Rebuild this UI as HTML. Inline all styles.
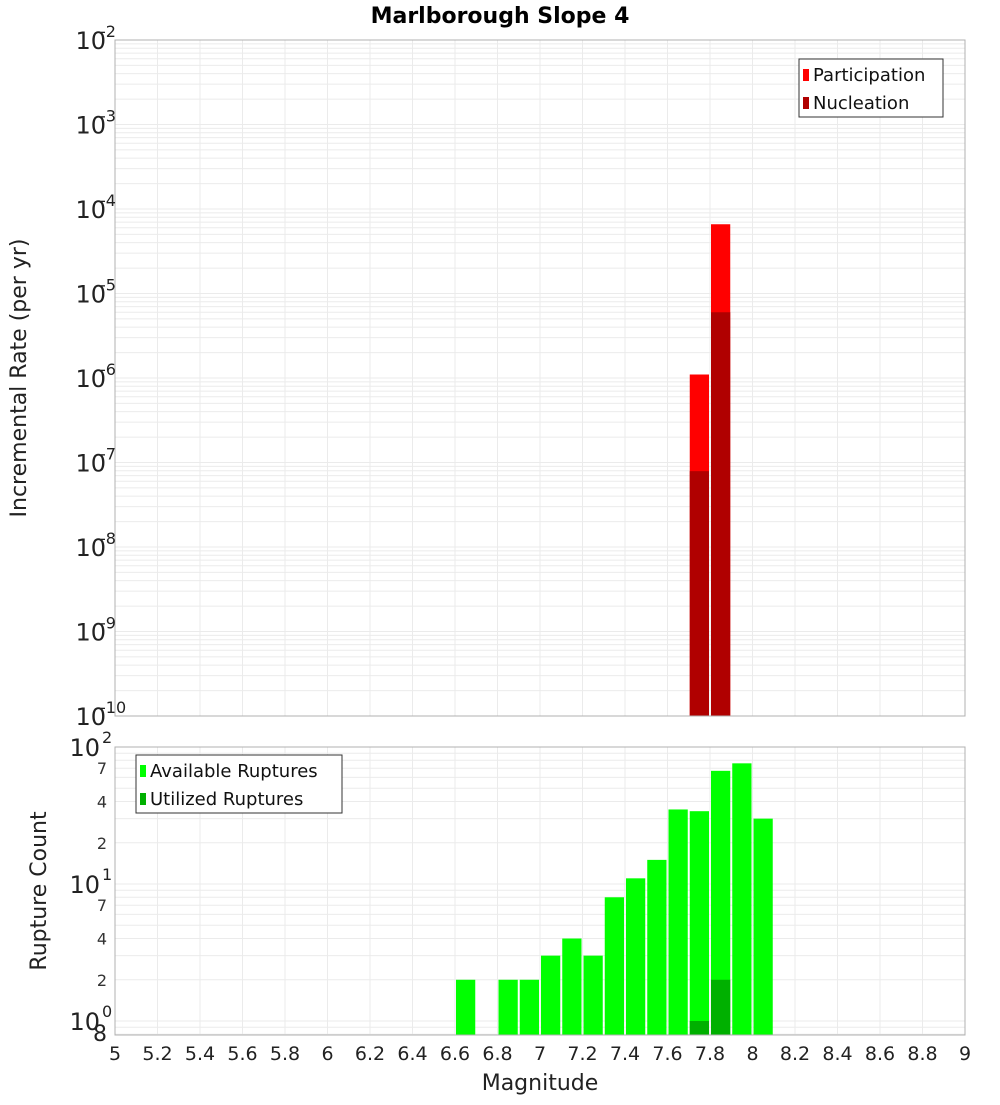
<!DOCTYPE html>
<html><head><meta charset="utf-8"><style>
body{margin:0;background:#fff;font-family:"Liberation Sans","DejaVu Sans",sans-serif}
svg text{font-family:"DejaVu Sans","Liberation Sans",sans-serif}
</style></head><body>
<svg id="chart" width="1000" height="1100" xmlns="http://www.w3.org/2000/svg">
<text x="500" y="23" text-anchor="middle" font-size="22" font-weight="bold">Marlborough Slope 4</text>
<g id="topPlot"></g><g id="botPlot"></g>
<text transform="translate(26,378) rotate(-90)" text-anchor="middle" font-size="22" fill="#222">Incremental Rate (per yr)</text>
<text transform="translate(46,891) rotate(-90)" text-anchor="middle" font-size="22" fill="#222">Rupture Count</text>
<text x="540" y="1090" text-anchor="middle" font-size="22" fill="#222">Magnitude</text>
</svg>
<script>
const mags=[6.65,6.85,6.95,7.05,7.15,7.25,7.35,7.45,7.55,7.65,7.75,7.85,7.95,8.05];
const available=[2,2,2,3,4,3,8,11,15,35,34,67,76,30];
const utilMags=[7.75,7.85];
const utilized=[1,2];
const rateMags=[7.75,7.85];
const participation=[1.1e-6,6.6e-5];
const nucleation=[7.9e-8,6.0e-6];
const xTicks=[5,5.2,5.4,5.6,5.8,6,6.2,6.4,6.6,6.8,7,7.2,7.4,7.6,7.8,8,8.2,8.4,8.6,8.8,9];
const topExps=[-2,-3,-4,-5,-6,-7,-8,-9,-10];
const botMinor=[2,4,7];

const NS="http://www.w3.org/2000/svg";
const L=115,R=965;
const X=m=>L+(m-5)*(R-L)/4;
const T0=40,T1=716,yTop=v=>T0+(-2-Math.log10(v))*(T1-T0)/8;
const B0=747,B1=1035,DEC=137,yBot=v=>B0+(2-Math.log10(v))*DEC;
function el(p,t,a){const e=document.createElementNS(NS,t);for(const k in a)e.setAttribute(k,a[k]);p.appendChild(e);return e;}
const gTop=document.getElementById('topPlot'),gBot=document.getElementById('botPlot');

function frame(g,y0,y1){
  el(g,'rect',{x:L,y:y0,width:R-L,height:y1-y0,fill:'#fff'});
  xTicks.forEach(t=>{const l=el(g,'line',{x1:X(t),x2:X(t),y1:y0,y2:y1,stroke:'#ebebeb','stroke-width':1});
  
  });
}
frame(gTop,T0,T1);
for(let e=-10;e<-2;e++)for(let k=1;k<10;k++){const y=yTop(k*Math.pow(10,e));
  const l=el(gTop,'line',{x1:L,x2:R,y1:y,y2:y,stroke:'#ebebeb','stroke-width':1});
  
  }
frame(gBot,B0,B1);
[0.8,0.9,1,2,3,4,5,6,7,8,9,10,20,30,40,50,60,70,80,90].forEach(v=>{const y=yBot(v);if(y>B1||y<B0)return;
  const l=el(gBot,'line',{x1:L,x2:R,y1:y,y2:y,stroke:'#ebebeb','stroke-width':1});
  
  });

const bw=(R-L)/40;
rateMags.forEach((m,i)=>{
  const y=yTop(participation[i]);
  const r=el(gTop,'rect',{x:X(m)-bw/2+1,y:y,width:bw-2,height:T1-y,fill:'#ff0000'});
  
  
  const y2=yTop(nucleation[i]);
  const r2=el(gTop,'rect',{x:X(m)-bw/2+1,y:y2,width:bw-2,height:T1-y2,fill:'#b00000'});
  
  
});
mags.forEach((m,i)=>{
  const y=yBot(available[i]);
  const r=el(gBot,'rect',{x:X(m)-bw/2+1,y:y,width:bw-2,height:B1-y,fill:'#00ff00'});
  
  
});
utilMags.forEach((m,i)=>{
  const y=yBot(utilized[i]);
  const r=el(gBot,'rect',{x:X(m)-bw/2+1,y:y,width:bw-2,height:B1-y,fill:'#00b000'});
  
  
});
el(gTop,'rect',{x:L,y:T0,width:R-L,height:T1-T0,fill:'none',stroke:'#b0b0b0'});
el(gBot,'rect',{x:L,y:B0,width:R-L,height:B1-B0,fill:'none',stroke:'#b0b0b0'});

topExps.forEach(e=>{const y=yTop(Math.pow(10,e));
  const t=el(gTop,'text',{x:106,y:y+9,'text-anchor':'end','font-size':24,fill:'#222'});
  
  
  t.textContent='10';
  const s=el(gTop,'text',{x:100,y:y-3,'font-size':16,fill:'#222'});
  
  
  s.textContent=String(e);
});
[2,1,0].forEach(e=>{const y=yBot(Math.pow(10,e));
  const t=el(gBot,'text',{x:100,y:y+9,'text-anchor':'end','font-size':24,fill:'#222'});
  
  
  t.textContent='10';
  const s=el(gBot,'text',{x:102,y:y-4,'font-size':16,fill:'#222'});
  
  
  s.textContent=String(e);
  if(e>0)botMinor.forEach(k=>{const yy=yBot(k*Math.pow(10,e-1));
    const m=el(gBot,'text',{x:107,y:yy+6,'text-anchor':'end','font-size':16,fill:'#333'});
    
    
    m.textContent=String(k);});
});
{const t=el(gBot,'text',{x:107,y:1041,'text-anchor':'end','font-size':22,fill:'#222'});


t.textContent='8';}
xTicks.forEach(v=>{const t=el(gBot,'text',{x:X(v),y:1060,'text-anchor':'middle','font-size':19,fill:'#222'});
  
  
  t.textContent=String(v);});

function legend(g,x,y,w,items,name){
  const lg=el(g,'g',{});
  
  
  el(lg,'rect',{x:x,y:y,width:w,height:58,fill:'#fff',stroke:'#333'});
  items.forEach((it,i)=>{
    el(lg,'rect',{x:x+4,y:y+10+i*28,width:6,height:12,fill:it[1]});
    const t=el(lg,'text',{x:x+14,y:y+22+i*28,'font-size':18,fill:'#111'});
    
    
    t.textContent=it[0];});
}
legend(gTop,799,59,144,[['Participation','#ff0000'],['Nucleation','#b00000']],'top-legend');
legend(gBot,136,755,206,[['Available Ruptures','#00ff00'],['Utilized Ruptures','#00b000']],'bottom-legend');
</script>
</body></html>
